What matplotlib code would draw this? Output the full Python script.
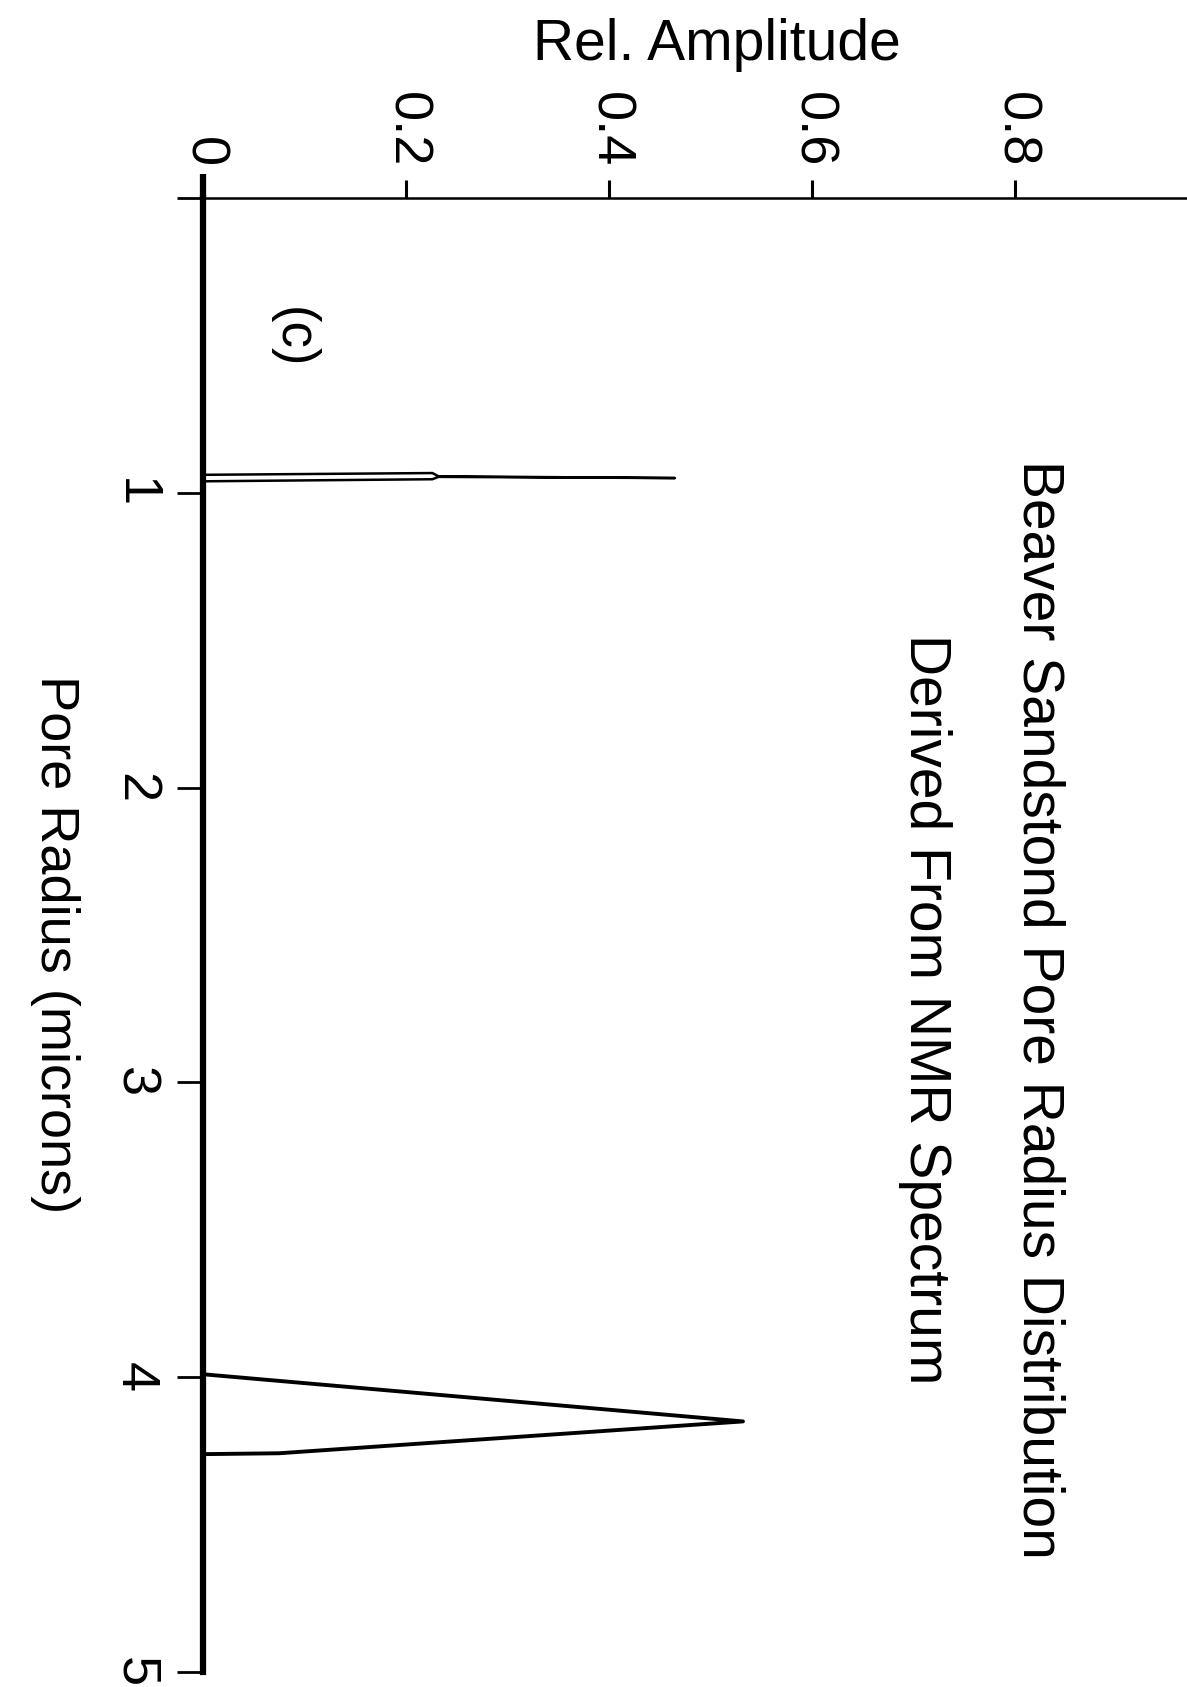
import matplotlib
matplotlib.use("Agg")
import matplotlib.pyplot as plt

plt.rcParams['font.family'] = ['Liberation Sans', 'DejaVu Sans']

# ---- data ----
# Pore radius (microns) on the vertical axis, relative amplitude on the horizontal axis
peak1_radius = [0.939, 0.933, 0.944, 0.950, 0.946, 0.954, 0.961]
peak1_amp = [0.0, 0.226, 0.232, 0.465, 0.232, 0.226, 0.0]

peak2_radius = [3.99, 4.150, 4.258, 4.261]
peak2_amp = [0.0, 0.532, 0.075, 0.0]

amp_ticks = [0, 0.2, 0.4, 0.6, 0.8]
amp_ticklabels = ['0', '0.2', '0.4', '0.6', '0.8']
radius_ticks = [0, 1, 2, 3, 4, 5]
radius_ticklabels = ['', '1', '2', '3', '4', '5']

title_line1 = 'Beaver Sandstond Pore Radius Distribution'
title_line2 = 'Derived From NMR Spectrum'
xlabel_text = 'Rel. Amplitude'
ylabel_text = 'Pore Radius (microns)'
panel_text = '(c)'

W, H = 1187, 1687
fig = plt.figure(figsize=(W / 100, H / 100), dpi=100)
ax_left = 203 / W
ax_top = 1 - 198 / H
ax_bottom = 15 / H
ax = fig.add_axes([ax_left, ax_bottom, 1 - ax_left, ax_top - ax_bottom])

ax.plot(peak1_amp, peak1_radius, color='black', lw=1.8)
ax.plot(peak2_amp, peak2_radius, color='black', lw=2.8)

ax.set_xlim(0, (1 - ax_left) * W / 1015)
ax.set_ylim(5, 0)

for s in ['right', 'bottom']:
    ax.spines[s].set_visible(False)
ax.spines['left'].set_linewidth(4.5)
ax.spines['top'].set_linewidth(1.8)

ax.xaxis.set_ticks_position('top')
ax.set_xticks(amp_ticks)
ax.set_xticklabels(amp_ticklabels, rotation=-90, fontsize=39, ha='center', va='bottom')
ax.tick_params(axis='x', direction='out', length=13, width=2.2, pad=9)

ax.set_yticks(radius_ticks)
ax.set_yticklabels(radius_ticklabels, rotation=-90, fontsize=39, ha='right', va='center')
ax.tick_params(axis='y', direction='out', length=19, width=2.0, pad=12)

# thicker zero tick continuing the radius axis above the amplitude axis
t0 = ax.xaxis.get_major_ticks()[0]
t0.tick2line.set_markeredgewidth(4.5)
t0.tick2line.set_markersize(17)

fig.text(717 / W, 1 - 45 / H, xlabel_text, fontsize=41, ha='center', va='center')
fig.text(55 / W, 1 - 944 / H, ylabel_text, fontsize=39, rotation=-90, ha='center', va='center')
fig.text(1038 / W, 1 - 1009 / H, title_line1, fontsize=41, rotation=-90, ha='center', va='center')
fig.text(925 / W, 1 - 1009 / H, title_line2, fontsize=41, rotation=-90, ha='center', va='center')
fig.text(293 / W, 1 - 338 / H, panel_text, fontsize=38, rotation=-90, ha='center', va='center')

fig.savefig('out.png', dpi=100, facecolor='white')
